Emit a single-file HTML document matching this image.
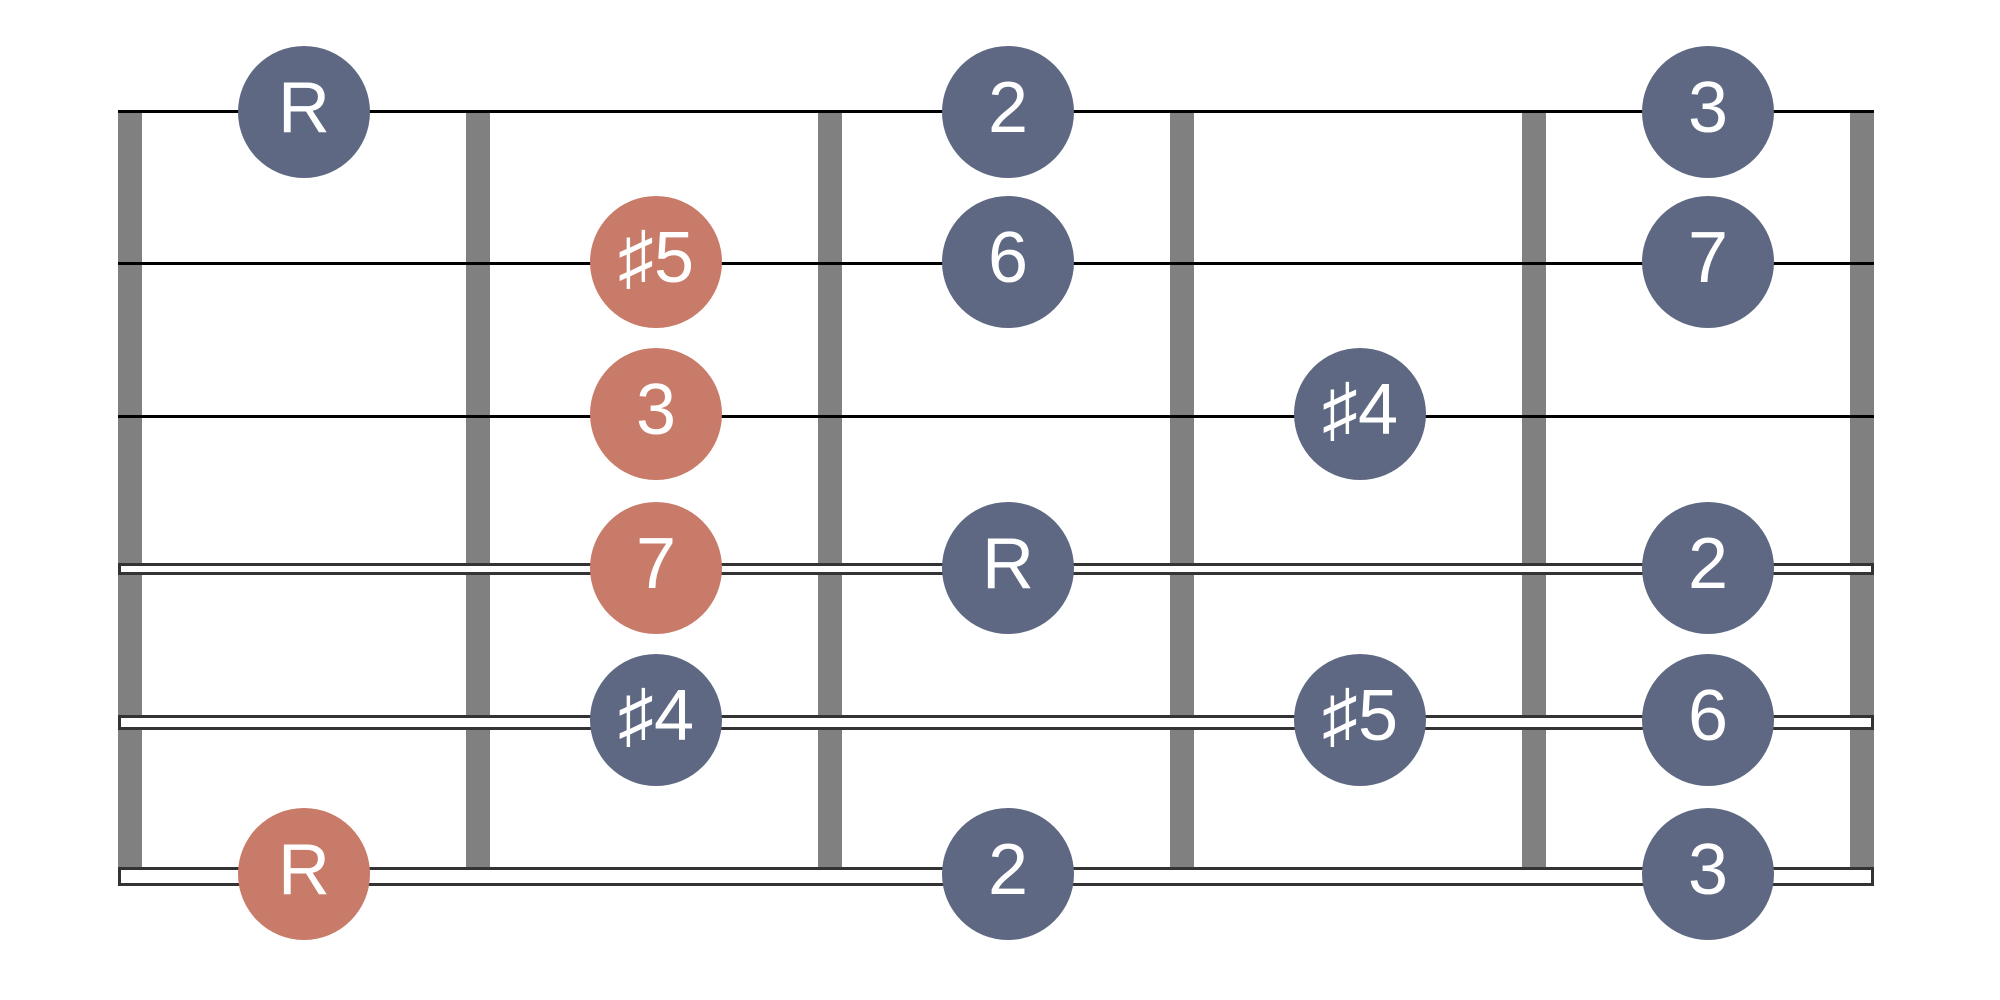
<!DOCTYPE html>
<html><head><meta charset="utf-8"><style>
html,body{margin:0;padding:0;background:#fff;}
svg{display:block;}
text{font-family:"Liberation Sans","DejaVu Sans",sans-serif;fill:#fff;font-size:72px;text-anchor:middle;}
</style></head><body>
<svg width="2000" height="1000" viewBox="0 0 2000 1000" xmlns="http://www.w3.org/2000/svg">
<g fill="#808080">
<rect x="118" y="110" width="24" height="776"/>
<rect x="466" y="110" width="24" height="776"/>
<rect x="818" y="110" width="24" height="776"/>
<rect x="1170" y="110" width="24" height="776"/>
<rect x="1522" y="110" width="24" height="776"/>
<rect x="1850" y="110" width="24" height="776"/>
</g>
<g fill="#000">
<rect x="118" y="110" width="1756" height="3"/>
<rect x="118" y="262" width="1756" height="3"/>
<rect x="118" y="415" width="1756" height="3"/>
</g>
<g fill="#fff" stroke="#333" stroke-width="3">
<rect x="119.5" y="564.5" width="1753" height="9"/>
<rect x="119.5" y="716.5" width="1753" height="12"/>
<rect x="119.5" y="868.5" width="1753" height="16"/>
</g>
<g fill="#5e6882">
<circle cx="304" cy="112" r="66"/>
<circle cx="1008" cy="112" r="66"/>
<circle cx="1708" cy="112" r="66"/>
<circle cx="1008" cy="262" r="66"/>
<circle cx="1708" cy="262" r="66"/>
<circle cx="1360" cy="414" r="66"/>
<circle cx="1008" cy="568" r="66"/>
<circle cx="1708" cy="568" r="66"/>
<circle cx="656" cy="720" r="66"/>
<circle cx="1360" cy="720" r="66"/>
<circle cx="1708" cy="720" r="66"/>
<circle cx="1008" cy="874" r="66"/>
<circle cx="1708" cy="874" r="66"/>
</g>
<g fill="#c87b68">
<circle cx="656" cy="262" r="66"/>
<circle cx="656" cy="414" r="66"/>
<circle cx="656" cy="568" r="66"/>
<circle cx="304" cy="874" r="66"/>
</g>
<text x="304" y="132">R</text>
<text x="1008" y="132">2</text>
<text x="1708" y="132">3</text>
<text x="656" y="282">♯5</text>
<text x="1008" y="282">6</text>
<text x="1708" y="282">7</text>
<text x="656" y="434">3</text>
<text x="1360" y="434">♯4</text>
<text x="656" y="588">7</text>
<text x="1008" y="588">R</text>
<text x="1708" y="588">2</text>
<text x="656" y="740">♯4</text>
<text x="1360" y="740">♯5</text>
<text x="1708" y="740">6</text>
<text x="304" y="894">R</text>
<text x="1008" y="894">2</text>
<text x="1708" y="894">3</text>
</svg>
</body></html>
